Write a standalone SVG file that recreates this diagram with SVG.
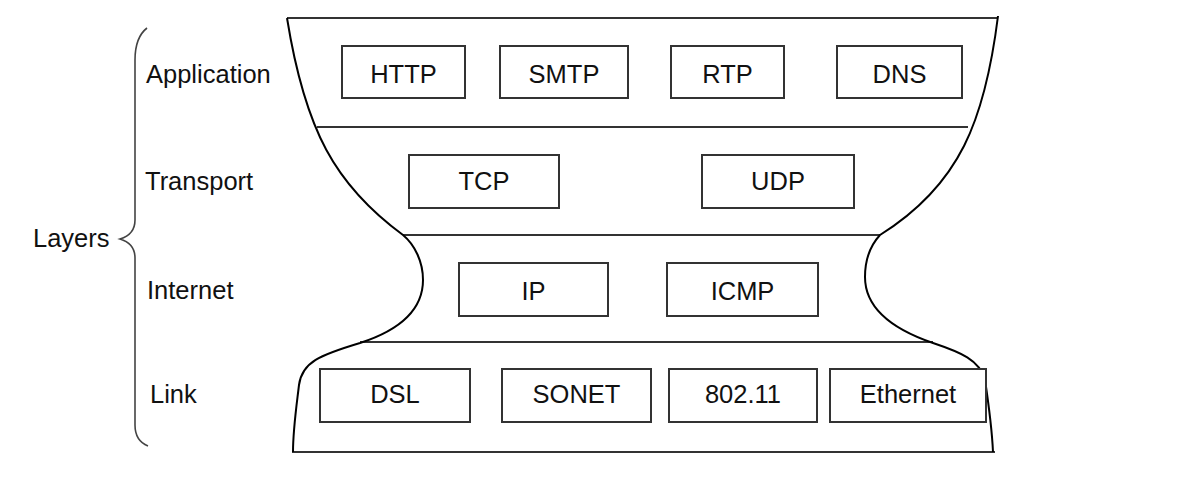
<svg xmlns="http://www.w3.org/2000/svg" width="1185" height="497" viewBox="0 0 1185 497">
<style>
.box rect{fill:#fff;stroke:#333;stroke-width:2}
text{font-family:"Liberation Sans",Arial,sans-serif;font-size:25.5px;fill:#111}
.box text{text-anchor:middle}
.line{stroke:#333;stroke-width:2;fill:none}
.curve{stroke:#000;stroke-width:2;fill:none}
</style>
<rect width="1185" height="497" fill="#fff"/>
<g id="outline">
<path class="line" d="M287,18 H998"/>
<path class="line" d="M317,127 H968"/>
<path class="line" d="M403,235 H880"/>
<path class="line" d="M360,342 H933"/>
<path class="line" d="M292,452 H995"/>
<path class="curve" d="M287,18 C305,130 335,185 403,235 C415,245 423,262 423,280 C423,310 400,330 360,343 C320,355 302,362 299,385 C296,410 293,430 293,452"/>
<path class="curve" d="M998,16 C985,120 960,185 880,235 C868,248 865,262 865,277 C865,310 895,330 933,343 C960,352 980,360 985,380 C988,400 992,430 993,452"/>
</g>
<g id="brace">
<path d="M147,28 C138,35 135,45 135,60 V220 C135,230 130,236 120,239 C130,242 135,248 135,258 V425 C135,435 138,442 148,446" fill="none" stroke="#444" stroke-width="1.6"/>
</g>
<g id="labels">
<text x="146" y="83">Application</text>
<text x="145" y="190">Transport</text>
<text x="147" y="299">Internet</text>
<text x="150" y="403">Link</text>
<text x="33" y="247">Layers</text>
</g>
<g id="http" class="box"><rect x="342" y="46" width="123" height="52"/><text x="403.5" y="83">HTTP</text></g>
<g id="smtp" class="box"><rect x="500" y="46" width="128" height="52"/><text x="564" y="83">SMTP</text></g>
<g id="rtp" class="box"><rect x="671" y="46" width="113" height="52"/><text x="727.5" y="83">RTP</text></g>
<g id="dns" class="box"><rect x="837" y="46" width="125" height="52"/><text x="899.5" y="83">DNS</text></g>
<g id="tcp" class="box"><rect x="409" y="155" width="150" height="53"/><text x="484" y="190">TCP</text></g>
<g id="udp" class="box"><rect x="702" y="155" width="152" height="53"/><text x="778" y="190">UDP</text></g>
<g id="ip" class="box"><rect x="459" y="263" width="149" height="53"/><text x="533.5" y="300">IP</text></g>
<g id="icmp" class="box"><rect x="667" y="263" width="151" height="53"/><text x="742.5" y="300">ICMP</text></g>
<g id="dsl" class="box"><rect x="320" y="369" width="150" height="53"/><text x="395" y="403">DSL</text></g>
<g id="sonet" class="box"><rect x="502" y="369" width="149" height="53"/><text x="576.5" y="403">SONET</text></g>
<g id="wifi" class="box"><rect x="669" y="369" width="148" height="53"/><text x="743" y="403">802.11</text></g>
<g id="ethernet" class="box"><rect x="830" y="369" width="156" height="53"/><text x="908" y="403">Ethernet</text></g>
</svg>
